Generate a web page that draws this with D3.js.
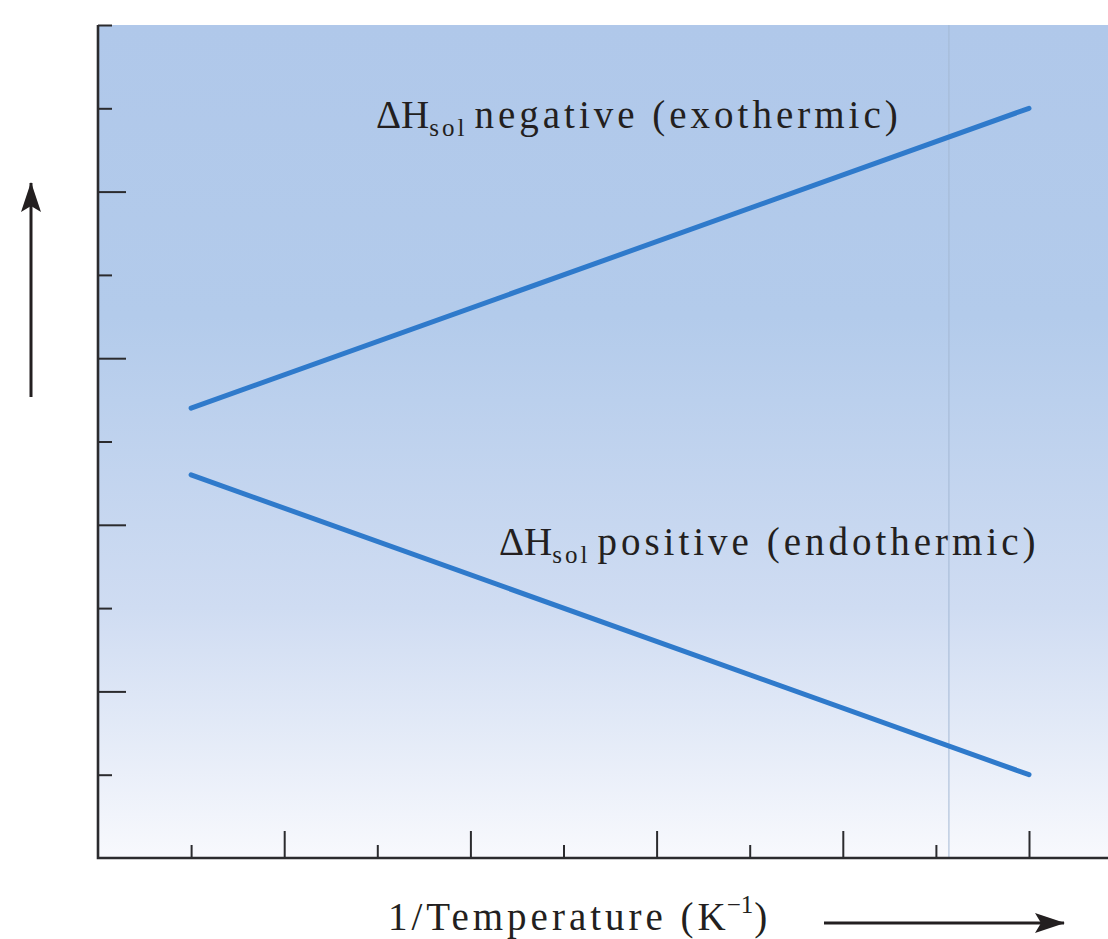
<!DOCTYPE html>
<html>
<head>
<meta charset="utf-8">
<script src="https://cdn.jsdelivr.net/npm/d3@7"></script>
<style>
  html, body { margin: 0; padding: 0; background: #fff; }
  svg { display: block; }
  .lbl { font-family: "Liberation Serif", "Times New Roman", serif; fill: #231f20; }
</style>
</head>
<body>
<svg id="chart" width="1108" height="939"></svg>
<script>
// Solubility vs 1/T sketch: two straight lines, exothermic rises, endothermic falls.

// Data (x in tick units of 1/T, y in tick units of the unlabelled axis)
const exoX = [1, 10];
const exoY = [5.4, 9];
const endoX = [1, 10];
const endoY = [4.6, 1];
const xShortTicks = [1, 3, 5, 7, 9];
const xLongTicks = [2, 4, 6, 8, 10];
const yShortTicks = [1, 3, 5, 7, 9, 10];
const yLongTicks = [2, 4, 6, 8];
const refLineX = [9.14];

const svg = d3.select('#chart');
const W = 1108;

// Scales
const x = d3.scaleLinear().domain([0, 10]).range([98, 1029]);
const y = d3.scaleLinear().domain([0, 10]).range([858, 25]);

// Background gradient
const defs = svg.append('defs');
const grad = defs.append('linearGradient')
  .attr('id', 'bg').attr('x1', 0).attr('y1', 0).attr('x2', 0).attr('y2', 1);
grad.append('stop').attr('offset', '0%').attr('stop-color', '#b0c8ea');
grad.append('stop').attr('offset', '35%').attr('stop-color', '#b3cbeb');
grad.append('stop').attr('offset', '70%').attr('stop-color', '#cfdcf2');
grad.append('stop').attr('offset', '100%').attr('stop-color', '#f8f9fd');

svg.append('rect')
  .attr('x', x(0)).attr('y', y(10))
  .attr('width', W - x(0)).attr('height', y(0) - y(10))
  .attr('fill', 'url(#bg)');

// Faint vertical guide
svg.selectAll('.guide').data(refLineX).join('line')
  .attr('class', 'guide')
  .attr('x1', d => x(d)).attr('x2', d => x(d))
  .attr('y1', y(10)).attr('y2', y(0))
  .attr('stroke', '#a4b8d4').attr('stroke-width', 1);

// Axes (ticks only, drawn inward)
function tickAxis(axis, values, size) {
  return axis.tickValues(values).tickSize(size).tickFormat('');
}
const axColor = '#2b2b2e';

[[xShortTicks, 13], [xLongTicks, 27]].forEach(([vals, size]) => {
  const g = svg.append('g')
    .attr('transform', `translate(0,${y(0)})`)
    .call(tickAxis(d3.axisTop(x), vals, size));
  g.select('.domain').remove();
  g.selectAll('line').attr('stroke', axColor).attr('stroke-width', 2);
});

[[yShortTicks, 14], [yLongTicks, 28]].forEach(([vals, size]) => {
  const g = svg.append('g')
    .attr('transform', `translate(${x(0)},0)`)
    .call(tickAxis(d3.axisRight(y), vals, size));
  g.select('.domain').remove();
  g.selectAll('line').attr('stroke', axColor).attr('stroke-width', 2);
});

// Axis lines
svg.append('path')
  .attr('d', `M${x(0)},${y(10)} V${y(0)} H${W}`)
  .attr('fill', 'none').attr('stroke', axColor).attr('stroke-width', 2.6);

// Lines
const line = d3.line().x(d => x(d[0])).y(d => y(d[1]));
[[exoX, exoY], [endoX, endoY]].forEach(([xs, ys]) => {
  svg.append('path')
    .datum(xs.map((v, i) => [v, ys[i]]))
    .attr('d', line)
    .attr('fill', 'none')
    .attr('stroke', '#2f7acb')
    .attr('stroke-width', 5)
    .attr('stroke-linecap', 'round');
});

// Labels (the source uses loose letter spacing)
function dhLabel(px, py, rest) {
  const t = svg.append('text').attr('class', 'lbl')
    .attr('x', px).attr('y', py).attr('font-size', 39);
  t.append('tspan').text('\u0394H');
  t.append('tspan').attr('font-size', 25).attr('dy', 8).attr('letter-spacing', 3).text('sol');
  t.append('tspan').attr('dy', -8).attr('dx', 7).attr('letter-spacing', 4).text(rest);
}
dhLabel(376, 128, 'negative (exothermic)');
dhLabel(499, 555, 'positive (endothermic)');

const xl = svg.append('text').attr('class', 'lbl')
  .attr('x', 388).attr('y', 930).attr('font-size', 39).attr('letter-spacing', 4);
xl.append('tspan').text('1/Temperature (K');
xl.append('tspan').attr('font-size', 25).attr('dy', -17).attr('dx', -3).attr('letter-spacing', 0).text('\u22121');
xl.append('tspan').attr('dy', 17).attr('dx', 1).text(')');

// Direction arrows
defs.append('marker')
  .attr('id', 'arrow')
  .attr('viewBox', '0 0 30 20')
  .attr('refX', 29).attr('refY', 10)
  .attr('markerWidth', 30).attr('markerHeight', 20)
  .attr('markerUnits', 'userSpaceOnUse')
  .attr('orient', 'auto')
  .append('path')
  .attr('d', 'M0,0 L30,10 L0,20 L6,10 Z')
  .attr('fill', '#231f20');

svg.append('line')
  .attr('x1', 31).attr('y1', 397).attr('x2', 31).attr('y2', 183)
  .attr('stroke', '#231f20').attr('stroke-width', 3)
  .attr('marker-end', 'url(#arrow)');

svg.append('line')
  .attr('x1', 824).attr('y1', 923).attr('x2', 1064).attr('y2', 923)
  .attr('stroke', '#231f20').attr('stroke-width', 3)
  .attr('marker-end', 'url(#arrow)');
</script>
</body>
</html>
